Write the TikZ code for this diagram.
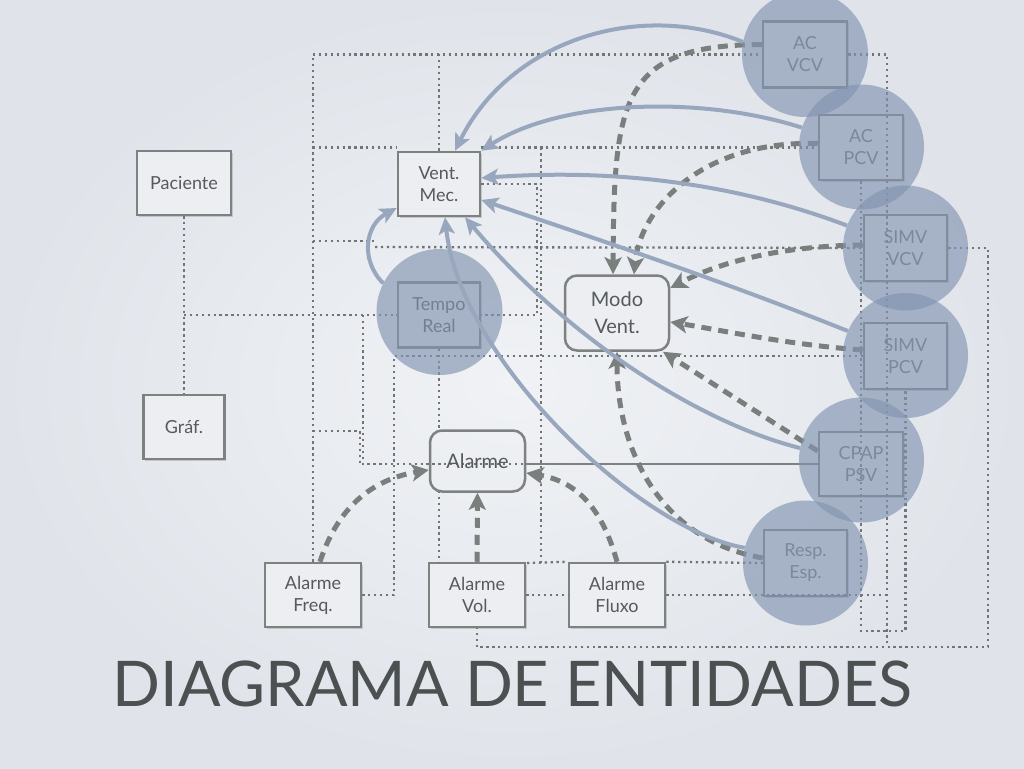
\documentclass[tikz,border=0pt]{standalone}
\usepackage{fontspec}
\setmainfont{Lato}
\usetikzlibrary{arrows.meta,shadows}
\definecolor{bgin}{RGB}{240,242,245}
\definecolor{bgout}{RGB}{224,228,234}
\definecolor{boxc}{RGB}{125,130,128}
\definecolor{boxfill}{RGB}{236,238,241}
\definecolor{txtc}{RGB}{85,90,90}
\definecolor{arrc}{RGB}{152,167,190}
\definecolor{dashc}{RGB}{120,127,124}
\definecolor{dotc}{RGB}{112,117,117}
\definecolor{circc}{RGB}{130,148,177}
\definecolor{titlec}{RGB}{75,80,80}
\tikzset{
  ebox/.style={draw=boxc, line width=2.5pt, fill=boxfill, align=center, inner sep=0pt,
    text=txtc, font=\fontsize{18}{22}\selectfont,
    drop shadow={shadow xshift=1.5pt, shadow yshift=-1.5pt, opacity=0.15, fill=black}},
  rbox/.style={draw=boxc, line width=2.5pt, rounded corners=12pt, align=center, inner sep=0pt,
    text=txtc, font=\fontsize{20}{27}\selectfont},
  cbox/.style={ebox, text=txtc!85},
  halo/.style={circle, fill=circc, fill opacity=0.65, draw=none, inner sep=0pt, minimum size=125pt},
  dotline/.style={draw=dotc, line width=2.3pt, dash pattern=on 2.3pt off 3.6pt},
  sarr/.style={draw=arrc, line width=4pt, -{Stealth[length=17pt,width=16pt,inset=4pt]}},
  darr/.style={draw=dashc, line width=5pt, dash pattern=on 10pt off 7pt, -{Stealth[length=17pt,width=17pt,inset=4pt]}},
  gline/.style={draw=boxc, line width=2.5pt}
}
\begin{document}
\begin{tikzpicture}[x=1pt,y=-1pt]
\useasboundingbox (0,0) rectangle (1024,768);
\shade[inner color=bgin, outer color=bgout] (0,0) rectangle (1024,768);

% coordinates for bends
\coordinate (c887) at (887,647);
\coordinate (c988) at (988,647);

% ---------- nodes (boxes) ----------
\node[ebox, minimum width=94pt, minimum height=64pt] (Paciente) at (184,183) {Paciente};
\node[ebox, minimum width=81pt, minimum height=64pt] (Graf) at (184,427) {Gráf.};
\node[ebox, minimum width=82pt, minimum height=64pt] (VentMec) at (439,184) {Vent.\\Mec.};
\node[ebox, minimum width=82pt, minimum height=65pt] (TempoReal) at (439,315) {Tempo\\Real};
\node[rbox, fill=boxfill, minimum width=104pt, minimum height=75pt] (ModoVent) at (617,313) {Modo\\Vent.};
\node[ebox, minimum width=96pt, minimum height=64pt] (AFreq) at (313,595) {Alarme\\Freq.};
\node[ebox, minimum width=96pt, minimum height=64pt] (AVol) at (477,595) {Alarme\\Vol.};
\node[ebox, minimum width=96pt, minimum height=64pt] (AFluxo) at (617,595) {Alarme\\Fluxo};
\node[cbox, minimum width=84pt, minimum height=66pt] (ACVCV) at (805,54.5) {AC\\VCV};
\node[cbox, minimum width=84pt, minimum height=65pt] (ACPCV) at (861,147.5) {AC\\PCV};
\node[cbox, minimum width=83pt, minimum height=66pt] (SIMVVCV) at (905.5,248) {SIMV\\VCV};
\node[cbox, minimum width=83pt, minimum height=66pt] (SIMVPCV) at (905.5,356) {SIMV\\PCV};
\node[cbox, minimum width=84pt, minimum height=64pt] (CPAPPSV) at (861,464) {CPAP\\PSV};
\node[cbox, minimum width=83pt, minimum height=66pt] (RespEsp) at (805.5,563) {Resp.\\Esp.};

% ---------- dotted connectors ----------
\draw[dotline] (AFreq.north) |- (ACVCV.west);
\draw[dotline] (ACVCV.east) -| (c887);
\draw[dotline] (VentMec.north) -- (VentMec.north |- ACVCV.west);
\draw[dotline] (AFreq.north |- ACPCV.west) -- (VentMec.north west |- ACPCV.west);
\draw[dotline] (VentMec.north east |- ACPCV.west) -- (ACPCV.west);
\draw[dotline] (541,147.5) -- (541,563);
\draw[dotline] (VentMec.east) -- (537,184) -- (537,315) -- (TempoReal.east);
\draw[dotline] (313,241) -- (375,241);
\draw[dotline] (375,247) -- (SIMVVCV.west);
\draw[dotline] (SIMVVCV.east) -| (c988) -| (AVol.south);
\draw[dotline] (Paciente.south) -- (Graf.north);
\draw[dotline] (Paciente.south |- TempoReal.west) -- (TempoReal.west);
\draw[dotline] (363,315) -- (363,464) -- (540,464);
\draw[dotline] (313,431) -- (360,431) -- (360,464);
\draw[dotline] (TempoReal.south) -- (TempoReal.south |- 0,431);
\draw[dotline] (AFreq.east) -| (394,356) -- (SIMVPCV.west);
\draw[dotline] (439,491) -- (439,563);
\draw[dotline] (AVol.east) -- (AFluxo.west);
\draw[dotline] (AFluxo.east) -- (AFluxo.east -| c887);
\draw[dotline] (527,563) -- (AFluxo.north west);
\draw[dotline] (AFluxo.north east) -- (RespEsp.west);
\draw[dotline] (ACPCV.south) -- (861,631) -| (SIMVPCV.south);

% Alarme box (unfilled) and gray line
\node[rbox, minimum width=95pt, minimum height=61pt] (Alarme) at (477.5,461) {Alarme};
\draw[gline] ([yshift=-3pt]Alarme.east) -- (CPAPPSV.west);

% ---------- dashed arrows ----------
\draw[darr] ([yshift=10pt]ACVCV.west) .. controls (620,45) and (614,100) .. ([xshift=-4pt]ModoVent.north);
\draw[darr] ([yshift=4pt]ACPCV.west) .. controls (700,140) and (640,210) .. ([xshift=17pt]ModoVent.north);
\draw[darr] ([yshift=3pt]SIMVVCV.west) .. controls (780,246) and (720,262) .. ([yshift=25pt]ModoVent.east);
\draw[darr] ([yshift=6pt]SIMVPCV.west) .. controls (790,345) and (720,330) .. ([yshift=-9pt]ModoVent.east);
\draw[darr] ([yshift=13pt]CPAPPSV.west) -- ([xshift=46pt]ModoVent.south);
\draw[darr] ([yshift=5pt]RespEsp.west) .. controls (660,540) and (617,450) .. (ModoVent.south);
\draw[darr] ([xshift=7pt]AFreq.north) .. controls (340,500) and (380,478) .. ([yshift=-9pt]Alarme.west);
\draw[darr] (AVol.north) -- (Alarme.south);
\draw[darr] (AFluxo.north) .. controls (600,500) and (570,480) .. ([yshift=-12pt]Alarme.east);

% ---------- halos ----------
\node[halo, minimum size=126pt] (cACVCV) at (805,54) {};
\node[halo] (cACPCV) at (861.5,147) {};
\node[halo] (cSIMVVCV) at (905.5,248) {};
\node[halo] (cSIMVPCV) at (905.5,355.5) {};
\node[halo] (cCPAPPSV) at (861.5,460) {};
\node[halo] (cRespEsp) at (805.5,563) {};
\node[halo, minimum size=126pt] (cTempoReal) at (439.5,312) {};

% ---------- solid arrows ----------
\draw[sarr] (cACVCV.169) .. controls (640,0) and (510,40) .. ([xshift=16pt]VentMec.north);
\draw[sarr] (cACPCV.162) .. controls (700,95) and (560,100) .. (VentMec.north east);
\draw[sarr] (cSIMVVCV.159) .. controls (740,185) and (620,168) .. ([yshift=6pt]VentMec.east);
\draw[sarr] (cSIMVPCV.157) .. controls (720,280) and (600,240) .. ([yshift=-16pt]VentMec.east);
\draw[sarr] (cCPAPPSV.169) .. controls (690,420) and (560,330) .. ([xshift=26pt]VentMec.south);
\draw[sarr] (cRespEsp.166) .. controls (640,530) and (460,360) .. ([xshift=6pt]VentMec.south);
\draw[sarr] (cTempoReal.153) .. controls (360,260) and (365,225) .. ([yshift=-24pt]VentMec.west);

% ---------- title ----------
\node[text=titlec, font=\fontsize{63}{63}\selectfont, anchor=base, inner sep=0pt] (title) at (512.5,706) {DIAGRAMA DE ENTIDADES};
\end{tikzpicture}
\end{document}
